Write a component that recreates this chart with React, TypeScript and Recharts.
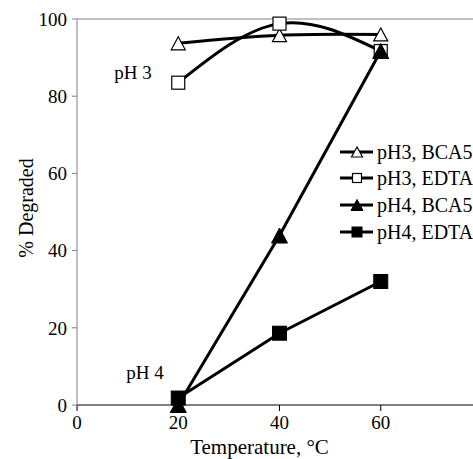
import { LineChart, Line, XAxis, YAxis, ReferenceLine, Label, Customized } from 'recharts'

const temps = [20, 40, 60]
const ph3Bca5 = [93.7, 95.8, 96]
const ph3Edta = [83.5, 98.8, 91.7]
const ph4Bca5 = [0, 43.9, 91.7]
const ph4Edta = [1.8, 18.6, 32]
const xTicks = [0, 20, 40, 60]
const yTicks = [0, 20, 40, 60, 80, 100]

const FONT = 'Liberation Serif'

const chartData = temps.map((t, i) => ({
  temp: t,
  ph3Bca5: ph3Bca5[i],
  ph3Edta: ph3Edta[i],
  ph4Bca5: ph4Bca5[i],
  ph4Edta: ph4Edta[i],
}))

type Shape = 'tri' | 'sq'

function marker(shape: Shape, filled: boolean, cx: number, cy: number, size: number, key?: string | number) {
  const fill = filled ? '#000' : '#fff'
  if (shape === 'tri') {
    const w = size + 2
    const h = size + 1
    return (
      <polygon
        key={key}
        points={`${cx},${cy - h / 2} ${cx - w / 2},${cy + h / 2} ${cx + w / 2},${cy + h / 2}`}
        fill={fill}
        stroke="#000"
        strokeWidth={filled ? 1 : 1.2}
      />
    )
  }
  return (
    <rect key={key} x={cx - size / 2} y={cy - size / 2} width={size} height={size} fill={fill} stroke="#000" strokeWidth={filled ? 1 : 1.2} />
  )
}

const makeDot = (shape: Shape, filled: boolean, size: number) => (props: any) =>
  marker(shape, filled, props.cx, props.cy, size, `${shape}-${filled}-${props.index}`)

const series = [
  { key: 'ph3Bca5', name: 'pH3, BCA5', shape: 'tri' as Shape, filled: false, size: 12, type: 'natural' as const },
  { key: 'ph3Edta', name: 'pH3, EDTA', shape: 'sq' as Shape, filled: false, size: 13, type: 'natural' as const },
  { key: 'ph4Bca5', name: 'pH4, BCA5', shape: 'tri' as Shape, filled: true, size: 14, type: 'linear' as const },
  { key: 'ph4Edta', name: 'pH4, EDTA', shape: 'sq' as Shape, filled: true, size: 14, type: 'linear' as const },
]

const txt = { fontFamily: FONT }

function Overlay() {
  const rowY = [152, 178, 205, 232]
  return (
    <g fill="#000">
      {series.map((s, i) => (
        <g key={s.key}>
          <line x1={340} x2={373} y1={rowY[i]} y2={rowY[i]} stroke="#000" strokeWidth={3} />
          {marker(s.shape, s.filled, 357, rowY[i], s.filled ? 10 : 9)}
          <text x={377} y={rowY[i] + 7} fontSize={20} style={txt}>{s.name}</text>
        </g>
      ))}
      <text x={133} y={79} fontSize={19} textAnchor="middle" style={txt}>pH 3</text>
      <text x={145} y={379} fontSize={19} textAnchor="middle" style={txt}>pH 4</text>
    </g>
  )
}

export default function App() {
  return (
    <div style={{ position: 'absolute', left: 0, top: 0, width: 473, height: 459, overflow: 'hidden', background: '#fff', fontFamily: FONT }}>
      <LineChart width={500} height={459} data={chartData} margin={{ top: 19, right: 18, left: 0, bottom: 0 }} style={txt}>
        <XAxis
          type="number"
          dataKey="temp"
          domain={[0, 80]}
          ticks={xTicks}
          height={54}
          stroke="#000"
          tickSize={6}
          tickMargin={5}
          tick={{ fill: '#000', fontSize: 19, style: txt }}
        >
          <Label
            content={({ viewBox }: any) => (
              <text x={viewBox.x + viewBox.width / 2 - 20} y={454} textAnchor="middle" fontSize={21} style={txt} fill="#000">
                Temperature, °C
              </text>
            )}
          />
        </XAxis>
        <YAxis
          type="number"
          domain={[0, 100]}
          ticks={yTicks}
          width={77}
          stroke="#808080"
          tickSize={5}
          tickMargin={5}
          tick={{ fill: '#000', fontSize: 19, style: txt }}
        >
          <Label
            content={() => (
              <text x={33} y={208} transform="rotate(-90 33 208)" textAnchor="middle" fontSize={20} style={txt} fill="#000">
                % Degraded
              </text>
            )}
          />
        </YAxis>
        <ReferenceLine y={100} stroke="#808080" strokeWidth={1} />
        {series.map((s) => (
          <Line
            key={s.key}
            type={s.type}
            dataKey={s.key}
            name={s.name}
            stroke="#000"
            strokeWidth={3}
            dot={makeDot(s.shape, s.filled, s.size)}
            activeDot={false}
            isAnimationActive={false}
          />
        ))}
        <Customized component={Overlay} />
      </LineChart>
    </div>
  )
}
